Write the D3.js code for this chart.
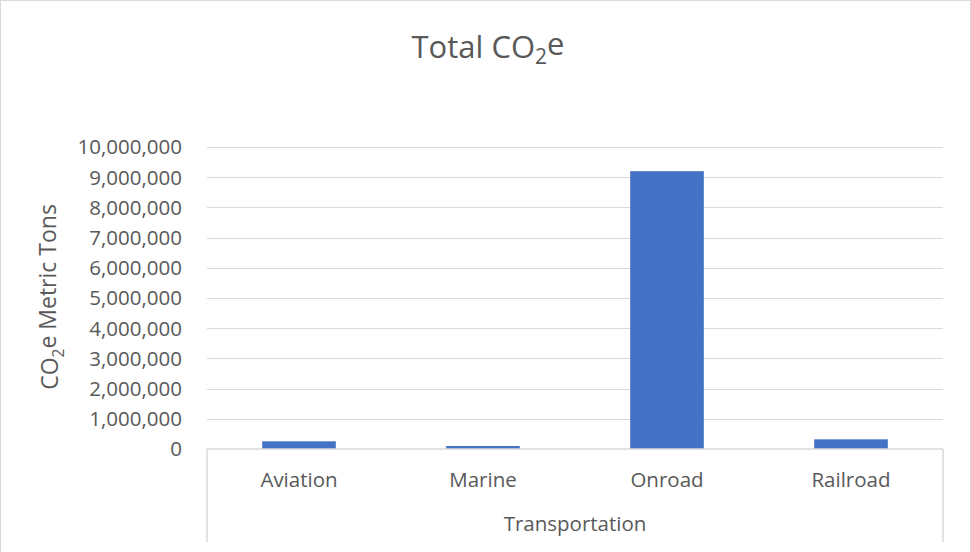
<!DOCTYPE html>
<html><head><meta charset="utf-8">
<script src="https://cdn.jsdelivr.net/npm/d3@7"></script>
<style>body{margin:0;background:#fff}svg{display:block}text{font-family:"Open Sans",Carlito,Calibri,sans-serif;fill:#595959}</style>
</head><body><svg id="c" width="971" height="552"></svg>
<script>
const categories = ["Aviation","Marine","Onroad","Railroad"];
const values = [255000, 100000, 9200000, 320000];
const yTicks = [0,1000000,2000000,3000000,4000000,5000000,6000000,7000000,8000000,9000000,10000000];
const groupLabel = "Transportation";

const svg = d3.select("#c");
const W = 971, H = 552;
const m = {l:207, r:943, t:147, b:449};
svg.append("rect").attr("x",0.5).attr("y",0.5).attr("width",W-1).attr("height",H+5).attr("fill","#fff").attr("stroke","#d9d9d9");

const x = d3.scaleBand().domain(categories).range([m.l,m.r]).paddingInner(0.6).paddingOuter(0.3);
const y = d3.scaleLinear().domain([0,10000000]).range([m.b,m.t]);

svg.append("g").selectAll("line").data(yTicks.filter(d=>d>0)).join("line")
  .attr("x1",m.l).attr("x2",m.r).attr("y1",d=>Math.round(y(d))+0.5).attr("y2",d=>Math.round(y(d))+0.5)
  .attr("stroke","#d9d9d9").attr("stroke-width",1);

const fmt = d3.format(",");
svg.append("g").selectAll("text").data(yTicks).join("text")
  .attr("x",182).attr("y",d=>y(d)).attr("dy","0.36em").attr("text-anchor","end")
  .attr("font-size",20.5).text(d=>fmt(d));

svg.append("g").selectAll("rect").data(categories).join("rect")
  .attr("x",d=>x(d)).attr("width",x.bandwidth())
  .attr("y",(d,i)=>y(values[i])).attr("height",(d,i)=>y(0)-y(values[i]))
  .attr("fill","#4472c4");

const ax = svg.append("g").attr("stroke","#d9d9d9").attr("stroke-width",1.5).attr("fill","none");
ax.append("line").attr("x1",m.l).attr("x2",m.r).attr("y1",m.b).attr("y2",m.b);
ax.append("line").attr("x1",m.l).attr("x2",m.l).attr("y1",m.b).attr("y2",542);
ax.append("line").attr("x1",m.r).attr("x2",m.r).attr("y1",m.b).attr("y2",542);

svg.append("g").selectAll("text").data(categories).join("text")
  .attr("x",d=>x(d)+x.bandwidth()/2).attr("y",480).attr("dy","0.36em").attr("text-anchor","middle")
  .attr("font-size",20.5).text(d=>d);
svg.append("text").attr("x",(m.l+m.r)/2).attr("y",524).attr("dy","0.36em").attr("text-anchor","middle")
  .attr("font-size",20.5).text(groupLabel);

const t = svg.append("text").attr("x",488).attr("y",47).attr("dy","0.36em").attr("text-anchor","middle").attr("font-size",31);
t.append("tspan").text("Total CO");
t.append("tspan").attr("font-size",21).attr("dy","0.3em").text("2");
t.append("tspan").attr("dy","-0.3em").text("e");

const yt = svg.append("text").attr("transform","translate(50,297) rotate(-90)").attr("text-anchor","middle").attr("dy","0.36em").attr("font-size",23);
yt.append("tspan").text("CO");
yt.append("tspan").attr("font-size",15.5).attr("dy","0.35em").text("2");
yt.append("tspan").attr("dy","-0.35em").text("e Metric Tons");
</script></body></html>
